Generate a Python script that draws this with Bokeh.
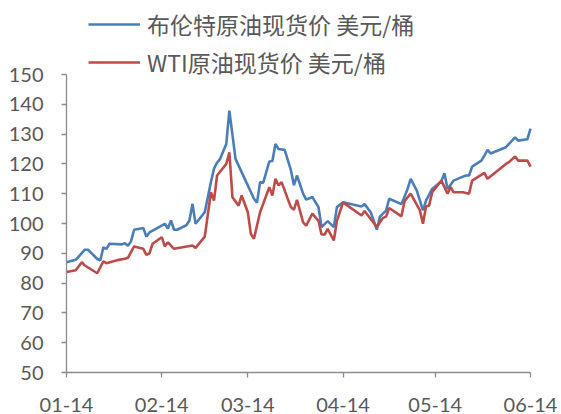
import pandas as pd
from bokeh.plotting import figure
from bokeh.models import Range1d, FixedTicker, DatetimeTickFormatter, Legend, LegendItem, ColumnDataSource
from bokeh.embed import file_html
from bokeh.resources import INLINE

# ---------------- data ----------------
brent_dates = [
    "2022-01-14", "2022-01-17", "2022-01-20", "2022-01-21", "2022-01-24", "2022-01-25",
    "2022-01-26", "2022-01-27", "2022-01-28", "2022-02-01", "2022-02-02", "2022-02-03",
    "2022-02-04", "2022-02-05", "2022-02-08", "2022-02-09", "2022-02-10", "2022-02-15",
    "2022-02-16", "2022-02-17", "2022-02-18", "2022-02-19", "2022-02-22", "2022-02-23",
    "2022-02-24", "2022-02-25", "2022-02-28", "2022-03-02", "2022-03-03", "2022-03-04",
    "2022-03-05", "2022-03-07", "2022-03-08", "2022-03-10", "2022-03-16", "2022-03-17",
    "2022-03-18", "2022-03-19", "2022-03-21", "2022-03-22", "2022-03-23", "2022-03-24",
    "2022-03-26", "2022-03-28", "2022-03-29", "2022-03-30", "2022-04-01", "2022-04-02",
    "2022-04-04", "2022-04-06", "2022-04-07", "2022-04-09", "2022-04-11", "2022-04-12",
    "2022-04-14", "2022-04-20", "2022-04-21", "2022-04-23", "2022-04-25", "2022-04-26",
    "2022-04-28", "2022-04-29", "2022-05-03", "2022-05-05", "2022-05-06", "2022-05-08",
    "2022-05-10", "2022-05-11", "2022-05-13", "2022-05-16", "2022-05-17", "2022-05-18",
    "2022-05-20", "2022-05-22", "2022-05-24", "2022-05-25", "2022-05-26", "2022-05-29",
    "2022-05-30", "2022-05-31", "2022-06-01", "2022-06-06", "2022-06-07", "2022-06-09",
    "2022-06-10", "2022-06-13", "2022-06-14",
]
brent_values = [
    87.0, 87.8, 91.2, 91.2, 88.1, 87.6,
    92.0, 91.5, 93.2, 93.0, 93.4, 92.5,
    94.0, 97.9, 98.5, 95.6, 97.0, 99.9,
    98.3, 101.0, 97.9, 97.9, 99.4, 101.0,
    106.6, 99.9, 103.8, 113.9, 118.4, 120.4,
    121.7, 126.7, 137.9, 121.7, 108.3, 107.0,
    113.9, 113.6, 120.8, 121.0, 126.7, 125.0,
    124.7, 118.0, 112.8, 116.1, 110.0, 108.0,
    108.9, 105.5, 98.8, 100.8, 98.8, 105.5,
    107.1, 105.7, 106.5, 103.8, 97.9, 102.3,
    104.3, 108.3, 106.5, 111.6, 115.0, 111.0,
    104.4, 107.7, 111.6, 114.2, 116.9, 111.6,
    114.4, 115.3, 116.1, 116.1, 119.1, 121.1,
    122.8, 124.7, 123.5, 125.6, 126.7, 128.9,
    127.8, 128.3, 131.8,
]

wti_dates = [
    "2022-01-14", "2022-01-17", "2022-01-19", "2022-01-20", "2022-01-24", "2022-01-26",
    "2022-01-27", "2022-01-31", "2022-02-02", "2022-02-03", "2022-02-05", "2022-02-08",
    "2022-02-09", "2022-02-10", "2022-02-11", "2022-02-14", "2022-02-15", "2022-02-16",
    "2022-02-18", "2022-02-24", "2022-02-25", "2022-02-28", "2022-03-02", "2022-03-03",
    "2022-03-04", "2022-03-07", "2022-03-08", "2022-03-09", "2022-03-11", "2022-03-12",
    "2022-03-14", "2022-03-15", "2022-03-16", "2022-03-18", "2022-03-21", "2022-03-22",
    "2022-03-23", "2022-03-24", "2022-03-25", "2022-03-28", "2022-03-29", "2022-03-30",
    "2022-04-01", "2022-04-02", "2022-04-04", "2022-04-06", "2022-04-07", "2022-04-08",
    "2022-04-09", "2022-04-11", "2022-04-12", "2022-04-14", "2022-04-20", "2022-04-21",
    "2022-04-25", "2022-04-27", "2022-04-28", "2022-04-29", "2022-05-03", "2022-05-04",
    "2022-05-06", "2022-05-09", "2022-05-10", "2022-05-11", "2022-05-12", "2022-05-13",
    "2022-05-16", "2022-05-18", "2022-05-19", "2022-05-20", "2022-05-23", "2022-05-25",
    "2022-05-26", "2022-05-30", "2022-05-31", "2022-06-06", "2022-06-07", "2022-06-09",
    "2022-06-10", "2022-06-13", "2022-06-14",
]
wti_values = [
    83.7, 84.3, 87.0, 85.9, 83.3, 87.3,
    86.7, 87.8, 88.2, 88.5, 92.3, 91.5,
    89.5, 90.0, 93.2, 95.4, 92.3, 93.7,
    91.5, 92.6, 91.8, 95.6, 110.5, 107.7,
    116.1, 120.0, 123.9, 108.8, 106.0, 109.4,
    103.8, 96.5, 94.9, 103.8, 112.2, 109.4,
    115.0, 112.8, 113.9, 105.5, 104.6, 107.9,
    100.4, 99.3, 103.3, 100.9, 96.3, 96.3,
    98.2, 94.3, 100.9, 107.1, 102.7, 104.2,
    98.8, 101.9, 102.3, 105.2, 102.4, 107.5,
    110.0, 104.4, 99.9, 105.7, 106.0, 110.5,
    114.4, 110.0, 112.2, 110.5, 110.5, 110.0,
    114.4, 117.0, 115.0, 120.0, 120.6, 122.5,
    121.1, 121.1, 119.1,
]

x_tick_dates = ["2022-01-14", "2022-02-14", "2022-03-14", "2022-04-14", "2022-05-14", "2022-06-14"]
y_ticks = [50, 60, 70, 80, 90, 100, 110, 120, 130, 140, 150]

brent_label = "布伦特原油现货价 美元/桶"
wti_label = "WTI原油现货价 美元/桶"

# ---------------- styles / layout ----------------
BLUE = "#4A7EBB"
RED = "#BE4B48"
AXIS = "#8C8C8C"
TEXT = "#595959"

W, H = 561, 414
LEFT_PX, RIGHT_PX = 66, 530   # screen x of the first and last date ticks
TOP_PX, BOTTOM_PX = 74, 372   # screen y of the 150 and 50 ticks

x0 = pd.Timestamp(x_tick_dates[0]).value / 1e6
x1 = pd.Timestamp(x_tick_dates[-1]).value / 1e6
xs = (x1 - x0) / (RIGHT_PX - LEFT_PX)          # ms per px
x_lo, x_hi = x0 - LEFT_PX * xs, x1 + (W - RIGHT_PX) * xs
ys = (y_ticks[-1] - y_ticks[0]) / (BOTTOM_PX - TOP_PX)   # units per px
y_lo, y_hi = y_ticks[0] - (H - BOTTOM_PX) * ys, y_ticks[-1] + TOP_PX * ys

brent_src = ColumnDataSource(dict(x=pd.to_datetime(brent_dates), y=brent_values))
wti_src = ColumnDataSource(dict(x=pd.to_datetime(wti_dates), y=wti_values))

p = figure(
    x_axis_type="datetime",
    width=W, height=H,
    min_border_left=0, min_border_right=0, min_border_top=0, min_border_bottom=0,
    x_range=Range1d(x_lo, x_hi),
    y_range=Range1d(y_lo, y_hi),
    output_backend="svg", toolbar_location=None,
)
p.outline_line_color = None
p.xgrid.visible = False
p.ygrid.visible = False

r_brent = p.line("x", "y", source=brent_src, line_color=BLUE, line_width=2.6)
r_wti = p.line("x", "y", source=wti_src, line_color=RED, line_width=2.6)

p.xaxis.ticker = FixedTicker(ticks=[pd.Timestamp(d).value // 10**6 for d in x_tick_dates])
p.xaxis.formatter = DatetimeTickFormatter(days="%m-%d", months="%m-%d", years="%m-%d", hours="%m-%d")
p.xaxis.fixed_location = y_ticks[0]
p.xaxis.bounds = (x0, x1)
p.yaxis.ticker = FixedTicker(ticks=y_ticks)
p.yaxis.fixed_location = x0
p.yaxis.bounds = (y_ticks[0], y_ticks[-1])

for ax in (p.xaxis[0], p.yaxis[0]):
    ax.axis_line_color = AXIS
    ax.axis_line_width = 1.3
    ax.major_tick_line_color = AXIS
    ax.major_tick_line_width = 1.3
    ax.major_tick_out = 5
    ax.major_tick_in = 0
    ax.minor_tick_line_color = None
    ax.major_label_text_font = "Lato"
    ax.major_label_text_font_size = "20px"
    ax.major_label_text_color = TEXT
p.xaxis.major_label_standoff = 20
p.yaxis.major_label_standoff = 18

legend = Legend(
    items=[LegendItem(label=brent_label, renderers=[r_brent]),
           LegendItem(label=wti_label, renderers=[r_wti])],
    location=(88, 335),
    orientation="vertical",
    glyph_width=52, glyph_height=24, label_height=24,
    spacing=4, padding=0, margin=0, label_standoff=7,
    label_text_font="Noto Sans CJK SC", label_text_font_size="23px",
    label_text_color=TEXT,
    border_line_color=None, background_fill_alpha=0,
)
p.add_layout(legend, "center")

open("out.html", "w").write(file_html(p, INLINE))
